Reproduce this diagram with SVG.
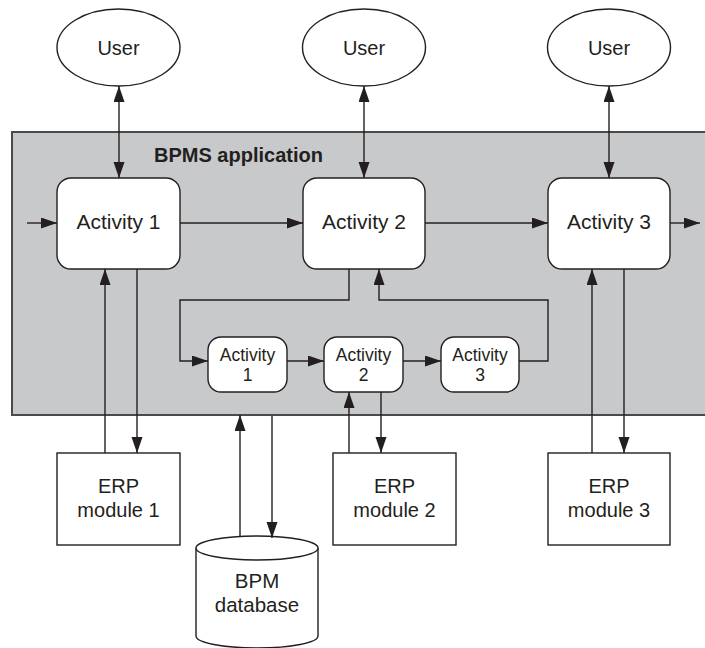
<svg xmlns="http://www.w3.org/2000/svg" width="705" height="648" viewBox="0 0 705 648">
  <style>
    .txt { font-family: "Liberation Sans", Arial, sans-serif; fill: #231f20; text-anchor: middle; }
    .box { fill: #ffffff; stroke: #231f20; stroke-width: 1.4; }
    .conn { fill: none; stroke: #231f20; stroke-width: 1.4; }
  </style>
  <defs>
    <marker id="arrow" markerUnits="userSpaceOnUse" markerWidth="17" markerHeight="12" refX="16" refY="5.5" orient="auto-start-reverse">
      <path d="M0,0 L16,5.5 L0,11 z" fill="#231f20"/>
    </marker>
  </defs>

  <!-- BPMS application container -->
  <g id="bpms">
    <rect x="12" y="132" width="710" height="283" fill="#c8c9cb" stroke="#4a4a4a" stroke-width="2"/>
    <text x="154" y="162" class="txt" style="text-anchor:start;font-weight:bold;font-size:20px">BPMS application</text>
  </g>

  <!-- Users -->
  <g id="user1">
    <ellipse cx="118.5" cy="47.5" rx="61.5" ry="38.5" class="box"/>
    <text x="118.5" y="54.5" class="txt" font-size="20">User</text>
  </g>
  <g id="user2">
    <ellipse cx="364" cy="47.5" rx="61.5" ry="38.5" class="box"/>
    <text x="364" y="54.5" class="txt" font-size="20">User</text>
  </g>
  <g id="user3">
    <ellipse cx="609" cy="47.5" rx="61.5" ry="38.5" class="box"/>
    <text x="609" y="54.5" class="txt" font-size="20">User</text>
  </g>

  <!-- Main activities -->
  <g id="activity1">
    <rect x="57" y="178" width="123" height="91" rx="14" class="box"/>
    <text x="118.5" y="229" class="txt" font-size="21">Activity 1</text>
  </g>
  <g id="activity2">
    <rect x="303" y="178" width="122" height="91" rx="14" class="box"/>
    <text x="364" y="229" class="txt" font-size="21">Activity 2</text>
  </g>
  <g id="activity3">
    <rect x="548" y="178" width="122" height="91" rx="14" class="box"/>
    <text x="609" y="229" class="txt" font-size="21">Activity 3</text>
  </g>

  <!-- Sub-activities -->
  <g id="sub1">
    <rect x="208" y="337" width="79" height="55" rx="13" class="box"/>
    <text x="247.5" y="361" class="txt" font-size="17.5">Activity</text>
    <text x="247.5" y="381" class="txt" font-size="17.5">1</text>
  </g>
  <g id="sub2">
    <rect x="324" y="337" width="79" height="55" rx="13" class="box"/>
    <text x="363.5" y="361" class="txt" font-size="17.5">Activity</text>
    <text x="363.5" y="381" class="txt" font-size="17.5">2</text>
  </g>
  <g id="sub3">
    <rect x="441" y="337" width="78" height="55" rx="13" class="box"/>
    <text x="480" y="361" class="txt" font-size="17.5">Activity</text>
    <text x="480" y="381" class="txt" font-size="17.5">3</text>
  </g>

  <!-- ERP modules -->
  <g id="erp1">
    <rect x="57" y="453" width="123" height="92" class="box"/>
    <text x="118.5" y="493" class="txt" font-size="20">ERP</text>
    <text x="118.5" y="517" class="txt" font-size="20">module 1</text>
  </g>
  <g id="erp2">
    <rect x="333" y="453" width="123" height="92" class="box"/>
    <text x="394.5" y="493" class="txt" font-size="20">ERP</text>
    <text x="394.5" y="517" class="txt" font-size="20">module 2</text>
  </g>
  <g id="erp3">
    <rect x="548" y="453" width="122" height="92" class="box"/>
    <text x="609" y="493" class="txt" font-size="20">ERP</text>
    <text x="609" y="517" class="txt" font-size="20">module 3</text>
  </g>

  <!-- BPM database -->
  <g id="database">
    <path d="M196,548 L196,636 A61,12 0 0 0 318,636 L318,548" class="box"/>
    <ellipse cx="257" cy="548" rx="61" ry="12" class="box"/>
    <text x="257" y="588" class="txt" font-size="20.5">BPM</text>
    <text x="257" y="612" class="txt" font-size="20.5">database</text>
  </g>

  <!-- Connectors -->
  <g id="connectors" class="conn">
    <line x1="119" y1="86" x2="119" y2="178" marker-start="url(#arrow)" marker-end="url(#arrow)"/>
    <line x1="364" y1="86" x2="364" y2="178" marker-start="url(#arrow)" marker-end="url(#arrow)"/>
    <line x1="609" y1="86" x2="609" y2="178" marker-start="url(#arrow)" marker-end="url(#arrow)"/>

    <line x1="27" y1="223" x2="57" y2="223" marker-end="url(#arrow)"/>
    <line x1="180" y1="223" x2="303" y2="223" marker-end="url(#arrow)"/>
    <line x1="425" y1="223" x2="548" y2="223" marker-end="url(#arrow)"/>
    <line x1="670" y1="223" x2="700" y2="223" marker-end="url(#arrow)"/>

    <line x1="105" y1="453" x2="105" y2="269" marker-end="url(#arrow)"/>
    <line x1="137" y1="269" x2="137" y2="453" marker-end="url(#arrow)"/>

    <polyline points="349,269 349,300 180,300 180,361 208,361" marker-end="url(#arrow)"/>
    <line x1="287" y1="361" x2="324" y2="361" marker-end="url(#arrow)"/>
    <line x1="403" y1="361" x2="441" y2="361" marker-end="url(#arrow)"/>
    <polyline points="519,361 548,361 548,300 379,300 379,269" marker-end="url(#arrow)"/>

    <line x1="349" y1="453" x2="349" y2="392" marker-end="url(#arrow)"/>
    <line x1="381" y1="392" x2="381" y2="453" marker-end="url(#arrow)"/>

    <line x1="240" y1="537" x2="240" y2="415" marker-end="url(#arrow)"/>
    <line x1="272" y1="416" x2="272" y2="538" marker-end="url(#arrow)"/>

    <line x1="592" y1="453" x2="592" y2="269" marker-end="url(#arrow)"/>
    <line x1="624" y1="269" x2="624" y2="453" marker-end="url(#arrow)"/>
  </g>
</svg>
